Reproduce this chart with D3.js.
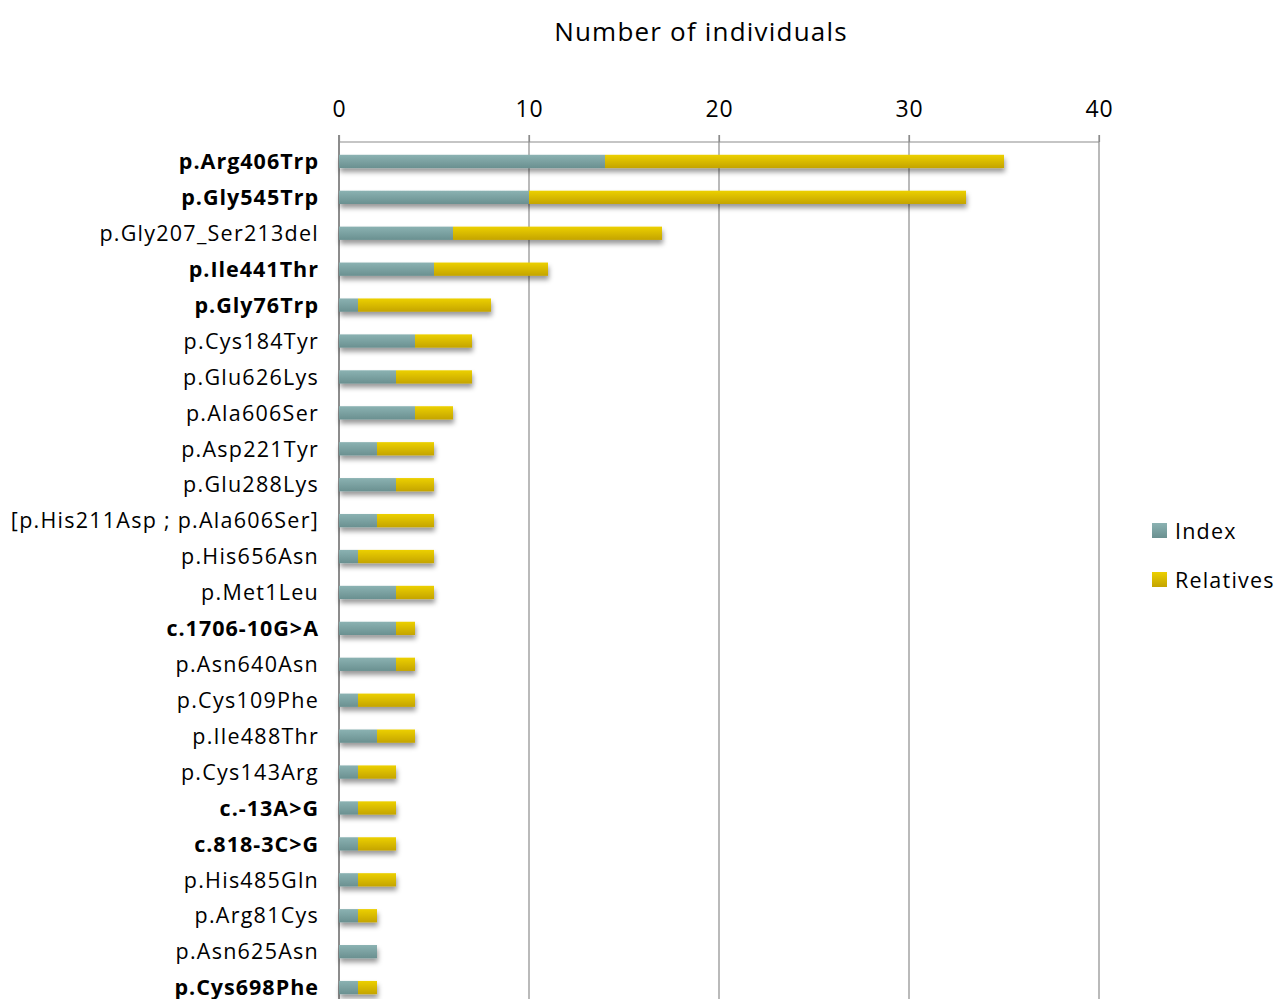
<!DOCTYPE html>
<html>
<head>
<meta charset="utf-8">
<script src="https://cdn.jsdelivr.net/npm/d3@7"></script>
<style>
  html, body { margin: 0; padding: 0; background: #fff; }
  svg { display: block; font-family: "Open Sans", Lato, sans-serif; }
</style>
</head>
<body>
<svg id="chart" width="1277" height="999"></svg>
<script>
// Variants, ordered by total number of carriers
const variants = [
  "p.Arg406Trp", "p.Gly545Trp", "p.Gly207_Ser213del", "p.Ile441Thr", "p.Gly76Trp",
  "p.Cys184Tyr", "p.Glu626Lys", "p.Ala606Ser", "p.Asp221Tyr", "p.Glu288Lys",
  "[p.His211Asp ; p.Ala606Ser]", "p.His656Asn", "p.Met1Leu", "c.1706-10G>A",
  "p.Asn640Asn", "p.Cys109Phe", "p.Ile488Thr", "p.Cys143Arg", "c.-13A>G",
  "c.818-3C>G", "p.His485Gln", "p.Arg81Cys", "p.Asn625Asn", "p.Cys698Phe"
];
// Variants shown in bold
const boldVariants = [
  "p.Arg406Trp", "p.Gly545Trp", "p.Ile441Thr", "p.Gly76Trp",
  "c.1706-10G>A", "c.-13A>G", "c.818-3C>G", "p.Cys698Phe"
];
const indexCounts =    [14, 10, 6, 5, 1, 4, 3, 4, 2, 3, 2, 1, 3, 3, 3, 1, 2, 1, 1, 1, 1, 1, 2, 1];
const relativeCounts = [21, 23, 11, 6, 7, 3, 4, 2, 3, 2, 3, 4, 2, 1, 1, 3, 2, 2, 2, 2, 2, 1, 0, 1];
const seriesNames = ["Index", "Relatives"];
const xTicks = [0, 10, 20, 30, 40];
const axisTitle = "Number of individuals";

const svg = d3.select("#chart");
const defs = svg.append("defs");

const colors = {
  Index: ["#8bb2b2", "#6a9090"],
  Relatives: ["#ecd000", "#c4a400"]
};
seriesNames.forEach((name, i) => {
  const g = defs.append("linearGradient")
    .attr("id", "grad" + i).attr("x1", 0).attr("y1", 0).attr("x2", 0).attr("y2", 1);
  g.append("stop").attr("offset", "0%").attr("stop-color", colors[name][0]);
  g.append("stop").attr("offset", "100%").attr("stop-color", colors[name][1]);
});
const shadow = defs.append("filter").attr("id", "shadow")
  .attr("x", "-5%").attr("y", "-50%").attr("width", "110%").attr("height", "250%");
shadow.append("feDropShadow").attr("dx", 1).attr("dy", 4).attr("stdDeviation", 2.5)
  .attr("flood-color", "#000").attr("flood-opacity", 0.4);

const x = d3.scaleLinear().domain([0, 40]).range([339, 1099]);
const y = d3.scaleBand().domain(variants).range([144, 1005]).paddingInner(0.63).paddingOuter(0.3);

// Gridlines
svg.append("g").selectAll("line").data(xTicks).join("line")
  .attr("x1", d => x(d)).attr("x2", d => x(d))
  .attr("y1", 135).attr("y2", 999)
  .attr("stroke", "#8c8c8c")
  .attr("stroke-width", d => d === 0 ? 2 : 1.2);

// Top axis
const axis = svg.append("g").attr("transform", "translate(0,142)")
  .call(d3.axisTop(x).tickValues(xTicks).tickSize(7).tickSizeOuter(0).tickFormat(d3.format("d")));
axis.select(".domain").attr("stroke", "#8c8c8c").attr("stroke-width", 1.2)
  .attr("d", `M${x(0)},0H${x(40)}`);
axis.selectAll(".tick line").attr("stroke", "#8c8c8c").attr("stroke-width", 1.2);
axis.selectAll(".tick text")
  .attr("y", -25).attr("font-size", 23).attr("fill", "#000")
  .attr("letter-spacing", "0.8px")
  .attr("font-family", "'Open Sans', sans-serif");

svg.append("text").attr("x", 701).attr("y", 41).attr("text-anchor", "middle")
  .attr("font-size", 26).attr("letter-spacing", "1.2px")
  .attr("fill", "#000").text(axisTitle);

// Stacked bars
const rows = variants.map((v, i) => ({ v, a: indexCounts[i], b: relativeCounts[i] }));
const stack = d3.stack().keys(["a", "b"])(rows);
const barG = svg.append("g").attr("filter", "url(#shadow)");
stack.forEach((layer, li) => {
  barG.append("g").selectAll("rect").data(layer).join("rect")
    .attr("x", d => x(d[0]))
    .attr("y", d => y(d.data.v))
    .attr("width", d => x(d[1]) - x(d[0]))
    .attr("height", y.bandwidth())
    .attr("fill", `url(#grad${li})`);
});

// Category labels
svg.append("g").selectAll("text").data(variants).join("text")
  .attr("x", 319)
  .attr("y", d => y(d) + y.bandwidth() / 2)
  .attr("dy", "0.36em")
  .attr("text-anchor", "end")
  .attr("font-size", 21.5)
  .attr("letter-spacing", d => boldVariants.includes(d) ? "1px" : "1.25px")
  .attr("font-weight", d => boldVariants.includes(d) ? "bold" : "normal")
  .attr("fill", "#000")
  .text(d => d);

// Legend
const legend = svg.append("g").selectAll("g").data(seriesNames).join("g")
  .attr("transform", (d, i) => `translate(1152,${531 + i * 49})`);
legend.append("rect").attr("x", 0).attr("y", -8).attr("width", 15).attr("height", 15)
  .attr("fill", (d, i) => `url(#grad${i})`);
legend.append("text").attr("x", 23).attr("y", 0).attr("dy", "0.36em")
  .attr("font-size", 21.5).attr("letter-spacing", "1.2px")
  .attr("fill", "#000").text(d => d);
</script>
</body>
</html>
